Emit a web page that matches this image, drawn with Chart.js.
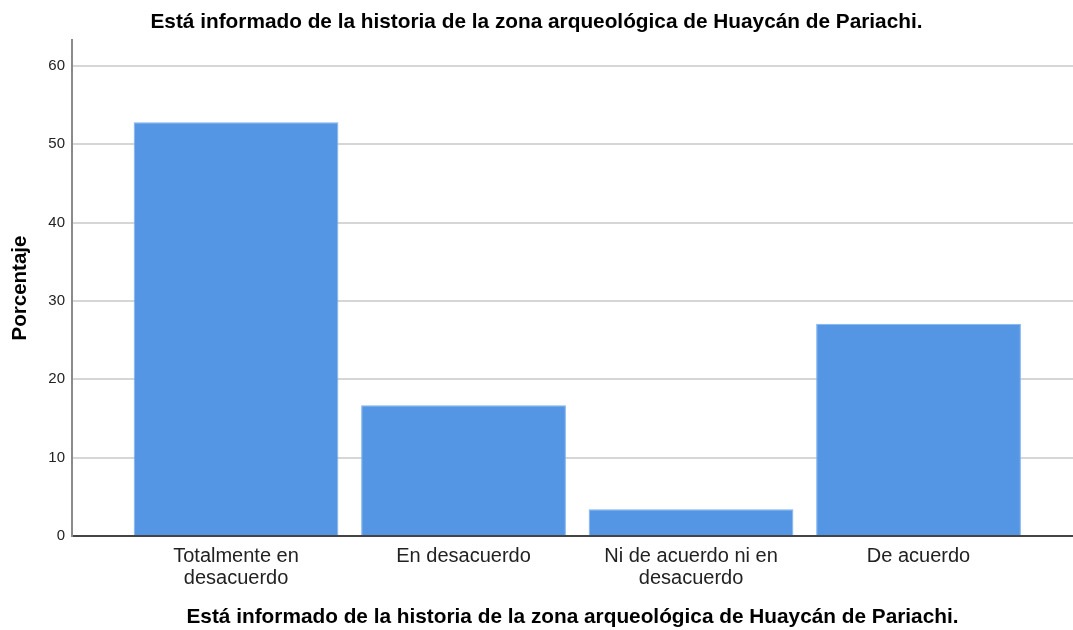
<!DOCTYPE html>
<html>
<head>
<meta charset="utf-8">
<script src="https://cdn.jsdelivr.net/npm/chart.js@4/dist/chart.umd.min.js"></script>
<style>
  html, body { margin: 0; padding: 0; background: #fff; }
  #wrap { width: 1073px; height: 630px; }
</style>
</head>
<body>
<div id="wrap"><canvas id="barChart"></canvas></div>
<script>
const categories = [
  ["Totalmente en", "desacuerdo"],
  "En desacuerdo",
  ["Ni de acuerdo ni en", "desacuerdo"],
  "De acuerdo"
];
const percentages = [52.8, 16.7, 3.4, 27.1];
const yTicks = [0, 10, 20, 30, 40, 50, 60];
const titleText = "Está informado de la historia de la zona arqueológica de Huaycán de Pariachi.";

Chart.defaults.font.family = "'Liberation Sans', Arial, sans-serif";
Chart.defaults.color = "#222";

const ctx = document.getElementById("barChart").getContext("2d");

new Chart(ctx, {
  type: "bar",
  data: {
    datasets: [{
      label: "Porcentaje",
      data: percentages.map((v, i) => ({ x: i, y: v })),
      backgroundColor: "#5596e4",
      borderColor: "#7eb0ee",
      borderWidth: 1,
      barPercentage: 0.9,
      categoryPercentage: 1
    }]
  },
  options: {
    responsive: true,
    maintainAspectRatio: false,
    animation: false,
    layout: { padding: 0 },
    plugins: {
      legend: { display: false },
      tooltip: { enabled: false },
      title: {
        display: true,
        text: titleText,
        color: "#000",
        font: { size: 20.8, weight: "bold" },
        padding: { top: 10, bottom: 5 }
      }
    },
    scales: {
      x: {
        type: "linear",
        offset: false,
        min: -0.721,
        max: 3.679,
        grid: { display: false, drawTicks: false },
        border: { display: true, color: "#444", width: 2 },
        afterBuildTicks: axis => {
          axis.ticks = categories.map((c, i) => ({ value: i }));
        },
        afterFit: axis => { axis.height = 94; },
        ticks: {
          padding: 10,
          autoSkip: false,
          maxRotation: 0,
          font: { size: 20, lineHeight: 1.08 },
          color: "#222",
          callback: value => categories[value]
        },
        title: {
          display: true,
          text: titleText,
          color: "#000",
          font: { size: 20.8, weight: "bold" },
          padding: { top: 4, bottom: 0 }
        }
      },
      y: {
        min: 0,
        max: 63.3,
        grid: { color: "#d6d6d6", lineWidth: 2, drawTicks: false },
        border: { display: true, color: "#8a8a8a", width: 2 },
        afterBuildTicks: axis => {
          axis.ticks = yTicks.map(v => ({ value: v }));
        },
        afterFit: axis => { axis.width = 72; },
        ticks: {
          padding: 7,
          font: { size: 15 },
          color: "#222"
        },
        title: {
          display: true,
          text: "Porcentaje",
          color: "#000",
          font: { size: 20.5, weight: "bold" },
          padding: { top: 8, bottom: 4 }
        }
      }
    }
  }
});
</script>
</body>
</html>
